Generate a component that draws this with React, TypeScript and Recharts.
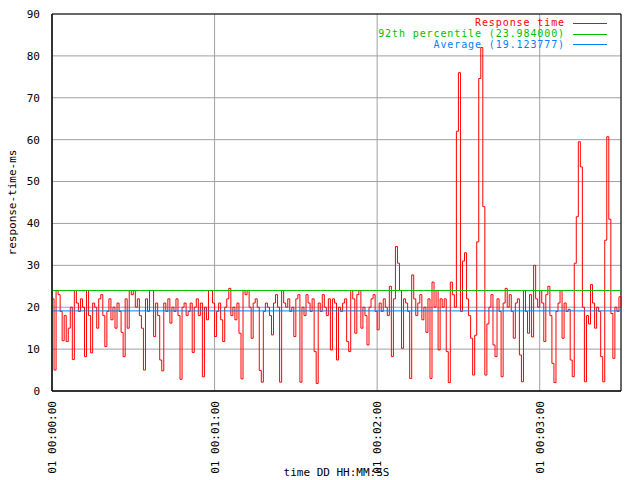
import React from 'react';
import { LineChart, Line, XAxis, YAxis, CartesianGrid, ReferenceLine, ReferenceArea } from 'recharts';

// sample spacing in seconds
const STEP = 0.75;

const responseTimes: number[] = [
  22, 5, 24, 23, 19, 12, 18, 11.8, 15, 20,
  7.5, 24, 21, 19, 22, 20, 8.2, 24, 18, 9.1,
  21, 20, 15, 22, 23, 18, 10.6, 19, 22, 17,
  20, 15, 21, 19, 14, 8.2, 22, 15, 24, 23,
  24, 20, 22, 18, 15, 5, 22, 19, 24, 24,
  13, 21, 18, 7.4, 4.8, 21, 19, 22, 16.2, 20,
  19, 22, 18, 2.8, 20, 21, 18, 19, 21, 9.2,
  20, 22, 18, 21, 3.4, 20, 17, 24, 24, 21,
  13, 19, 21, 17, 11.8, 20, 22, 24.5, 18, 20,
  17, 21, 13.8, 2.9, 24, 23, 24, 20, 12.6, 21,
  22, 20, 4.9, 2.1, 19, 21, 20, 18, 13.4, 21,
  23, 20, 2.1, 24, 21, 20, 22, 19, 20, 13,
  22, 23, 2.1, 20, 18, 23, 21, 19, 22, 9.4,
  1.8, 21, 19, 23, 20, 18, 22, 9.8, 22, 21,
  7.4, 20, 19, 21, 22, 11.8, 9.4, 24, 22, 13.8,
  23, 24, 15, 20, 18, 11, 20, 22, 23, 19,
  14.6, 21, 19, 22, 20, 18, 25, 8.2, 22, 34.5,
  30.5, 24, 10.2, 22, 21, 19, 3, 27.7, 22, 18,
  21, 23, 17, 20, 14, 22, 3, 26, 20, 24,
  9.8, 22, 20, 22, 9.4, 2, 26, 23, 20, 62,
  76, 19, 31, 33, 22, 18, 12.6, 3.8, 13.3, 35.6,
  74.6, 82, 44, 3.8, 16, 20, 23, 11, 8.2, 22,
  19, 3.4, 21, 24.5, 20, 23, 19, 12.6, 21, 22,
  8.6, 2.2, 24, 19, 13.8, 23, 12.9, 30, 22, 20,
  24, 21, 11.8, 23, 25, 18, 6.6, 2, 19, 21,
  24, 12.6, 21, 19, 19.5, 7.4, 3.4, 30.5, 41.6, 59.5,
  53.5, 20, 2.2, 18, 16, 25.4, 21, 15, 20, 19,
  8.2, 2.2, 36, 60.7, 41, 18.5, 7.8, 20, 19, 22.5,
  20,
];

const xTicks = [0, 60, 120, 180];
const yTicks = [0, 10, 20, 30, 40, 50, 60, 70, 80, 90];

const percentile92 = 23.984;
const average = 19.123777;

const data = responseTimes.map((v, i) => ({ t: i * STEP, ms: v }));

const FONT = '"DejaVu Sans Mono", monospace';

const fmtTime = (s: number) => {
  const m = Math.floor(s / 60);
  const sec = Math.round(s % 60);
  return `01 00:${String(m).padStart(2, '0')}:${String(sec).padStart(2, '0')}`;
};

const TimeTick = ({ x, y, payload }: any) => (
  <text
    transform={`translate(${x + 4},${y + 8}) rotate(-90)`}
    textAnchor="end"
    fontFamily={FONT}
    fontSize={11}
    fill="#000"
  >
    {fmtTime(payload.value)}
  </text>
);

const legendRows = [
  { label: 'Response time', color: '#ff0000' },
  { label: `92th percentile (${percentile92.toFixed(6)})`, color: '#00c000' },
  { label: `Average (${average.toFixed(6)})`, color: '#0080ff' },
];

const GnuLegend = () => (
  <div style={{ position: 'absolute', top: 18, right: 33, fontFamily: FONT, fontSize: 10, lineHeight: '10px', letterSpacing: 0.9 }}>
    {legendRows.map((r) => (
      <div key={r.label} style={{ display: 'flex', alignItems: 'center', justifyContent: 'flex-end', height: 10.8 }}>
        <span style={{ color: r.color, whiteSpace: 'pre' }}>{r.label}</span>
        <span style={{ display: 'inline-block', width: 34, height: 1, background: r.color, marginLeft: 8 }} />
      </div>
    ))}
  </div>
);

export default function App() {
  return (
    <div style={{ position: 'absolute', left: 0, top: 0, width: 640, height: 480, background: '#fff' }}>
      <LineChart width={640} height={480} data={data} margin={{ top: 14, right: 19, left: 0, bottom: 0 }}>
        <CartesianGrid stroke="#a0a0a0" strokeWidth={1} />
        <XAxis
          dataKey="t"
          type="number"
          domain={[0, 210]}
          ticks={xTicks}
          height={89}
          tick={<TimeTick />}
          tickSize={0}
          axisLine={{ stroke: '#000' }}
          label={{ value: 'time DD HH:MM:SS', position: 'insideBottom', offset: 4, fontFamily: FONT, fontSize: 11, fill: '#000' }}
        />
        <YAxis
          type="number"
          domain={[0, 90]}
          ticks={yTicks}
          width={52}
          tickSize={0}
          tickMargin={12}
          axisLine={{ stroke: '#000' }}
          tick={{ fontFamily: FONT, fontSize: 11, fill: '#000' }}
          label={{ value: 'response-time-ms', angle: -90, position: 'center', dx: -14, fontFamily: FONT, fontSize: 11, fill: '#000' }}
        />
        <Line
          type="stepAfter"
          dataKey="ms"
          stroke="#ff0000"
          strokeWidth={1}
          dot={false}
          isAnimationActive={false}
        />
        <ReferenceLine y={percentile92} stroke="#00c000" strokeWidth={1} />
        <ReferenceLine y={average} stroke="#0080ff" strokeWidth={1} />
        <ReferenceArea x1={0} x2={210} y1={0} y2={90} fill="none" stroke="#000" strokeWidth={1} />
      </LineChart>
      <GnuLegend />
    </div>
  );
}
